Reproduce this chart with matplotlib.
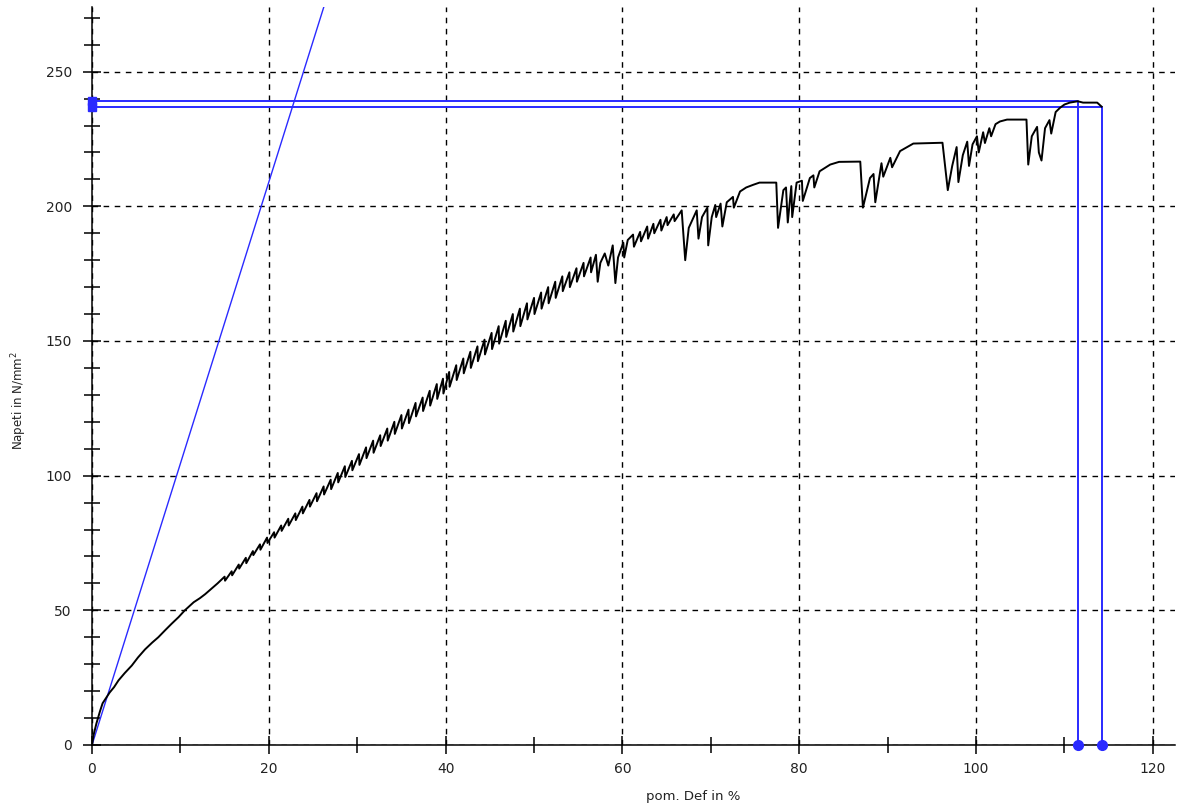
import numpy as np
import matplotlib
matplotlib.use("Agg")
from matplotlib import pyplot as plt
from matplotlib.ticker import MultipleLocator

# measured tensile curve: strain in %, stress in N/mm2
strain = [0, 0.2, 0.5, 0.9, 1.2, 1.5, 2.0, 2.5, 3.0, 3.7, 4.5, 5.2, 6.0, 6.8, 7.5, 8.3,
          9.0, 9.8, 10.5, 11.5, 12.2, 12.8, 13.5, 14.2,
          15.0, 15.05, 15.8, 15.85, 16.6, 16.65, 17.4, 17.45, 18.2, 18.25, 19.0, 19.05,
          19.8, 19.85, 20.6, 20.65, 21.4, 21.45, 22.2, 22.25, 23.0, 23.05, 23.8, 23.85,
          24.6, 24.65, 25.4, 25.45, 26.2, 26.25, 27.0, 27.05, 27.8, 27.85, 28.6, 28.65,
          29.4, 29.45, 30.2, 30.25, 31.0, 31.05, 31.8, 31.85, 32.6, 32.65, 33.4, 33.45,
          34.2, 34.25, 35.0, 35.05, 35.8, 35.85, 36.6, 36.65, 37.4, 37.45, 38.2, 38.25,
          39.0, 39.05, 39.7, 39.75, 40.4, 40.45, 41.2, 41.25, 42.0, 42.05, 42.8, 42.85,
          43.6, 43.65, 44.4, 44.45, 45.2, 45.25, 46.0, 46.05, 46.8, 46.85, 47.6, 47.65,
          48.4, 48.45, 49.2, 49.25, 50.0, 50.05, 50.8, 50.85, 51.6, 51.65, 52.4, 52.45,
          53.2, 53.25, 54.0, 54.05, 54.8, 54.85, 55.6, 55.65, 56.4, 56.45,
          57.0, 57.2, 57.5, 58.0, 58.4, 58.9, 59.2, 59.5, 60.1, 60.2, 60.6, 61.2, 61.3,
          62.0, 62.1, 62.8, 62.9, 63.5, 63.6, 64.3, 64.4, 65.0, 65.1, 65.8, 65.9,
          66.7, 67.1, 67.5, 68.4, 68.6, 69.0, 69.6, 69.7, 70.1, 70.5, 70.6, 71.1, 71.3,
          71.8, 72.5, 72.6, 73.3, 74.0, 74.8, 75.5, 77.4, 77.6, 78.2, 78.5, 78.7, 79.1,
          79.2, 79.7, 80.3, 80.4, 81.2, 81.6, 81.7, 82.3, 83.5, 84.5, 86.9, 87.2, 88.0,
          88.4, 88.6, 89.3, 89.5, 90.3, 90.5, 91.4, 92.2, 92.9, 96.2, 96.8, 97.3, 97.8,
          98.0, 98.5, 99.0, 99.2, 99.6, 100.1, 100.3, 100.8, 101.0, 101.5, 101.7, 102.2,
          102.7, 103.5, 105.7, 105.9, 106.3, 106.9, 107.1, 107.4, 107.8, 108.3, 108.5,
          109.0, 109.5, 110.0, 110.6, 111.5, 112.1, 113.7, 114.2]
stress = [0, 4, 8, 12.5, 15.5, 17, 19.5, 21.5, 24, 26.7, 29.5, 32.5, 35.5, 38, 40, 42.7,
          45, 47.5, 50, 53, 54.5, 56, 58, 60,
          62.5, 61, 64.5, 63, 67, 65.5, 69.5, 67.5, 72, 70.5, 74.5, 72.5,
          77, 75, 79, 77, 81.5, 79.5, 84, 81.5, 86, 83.5, 88.5, 86,
          91, 88.5, 93.5, 90.5, 96, 93, 98.5, 95, 101, 97.5, 103.5, 99.5,
          105.5, 102, 108, 104, 110.5, 106.5, 113, 108.5, 115, 111, 117.5, 113,
          120, 115.5, 122.5, 117.5, 124.5, 119.5, 127, 122, 129, 124, 131.5, 126,
          134, 128.5, 136, 130.5, 138.5, 133, 141, 135.5, 143.5, 138, 146, 140,
          148, 142.5, 150.5, 145, 153, 147, 155.5, 149, 157.5, 151.5, 160, 153.5,
          162, 155.5, 164, 158, 166, 160, 168, 162, 170, 164, 172, 166,
          174, 168.5, 175.5, 170, 177, 172, 179, 174, 181, 175.5,
          182, 172, 179, 182.5, 178, 185.5, 171.5, 181, 186.5, 181, 187.5, 189.5, 185,
          190.5, 187, 192.5, 188, 193.5, 190, 195, 191, 196, 193, 197, 194.5,
          198.5, 180, 192, 198.5, 188, 196, 199.5, 185.5, 196, 200.5, 196, 201, 192.5,
          201.5, 203.5, 199.5, 205.5, 207, 208, 208.8, 208.8, 192, 206, 207, 194, 207.5,
          196, 208.8, 209.5, 202, 210.5, 211.5, 207, 213, 215.5, 216.5, 216.6, 199.5, 210.5,
          212, 201.5, 216, 211, 218, 214.5, 220.5, 222, 223.3, 223.6, 206, 215, 222,
          209, 219, 224, 215, 223, 226, 220, 227.5, 223.5, 229, 226, 230.5,
          231.5, 232.2, 232.2, 215.5, 226, 229.5, 220, 217, 229, 232, 227,
          235, 236.6, 237.8, 238.5, 239, 238.5, 238.5, 237]

# evaluation markers
rm_strain, rm_stress = 111.5, 239.0      # max force
break_strain, break_stress = 114.2, 237.0  # break
elastic_slope = 10.45                    # N/mm2 per %

blue = "#2a2aff"

fig = plt.figure(figsize=(11.78, 8.07), dpi=100)
ax = fig.add_axes([92 / 1178, 62 / 807, 1083 / 1178, 738 / 807])

ax.set_xlim(0, 122.5)
ax.set_ylim(0, 274)

# elastic line
ex = np.array([0, 30])
ax.plot(ex, elastic_slope * ex, color=blue, lw=1.0, zorder=3)

# marker lines for Rm and break
ax.plot([0, rm_strain, rm_strain], [rm_stress, rm_stress, 0], color=blue, lw=1.4, zorder=3)
ax.plot([0, break_strain, break_strain], [break_stress, break_stress, 0], color=blue, lw=1.4, zorder=3)
ax.plot([rm_strain, break_strain], [0, 0], ls="none", marker="o", ms=7, color=blue,
        clip_on=False, zorder=5)
ax.plot([0, 0], [rm_stress, break_stress], ls="none", marker="s", ms=6, color=blue,
        clip_on=False, zorder=5)

ax.plot(strain, stress, color="black", lw=1.4, zorder=4)

# axes look
for s in ["top", "right"]:
    ax.spines[s].set_visible(False)
for s in ["left", "bottom"]:
    ax.spines[s].set_linewidth(1.1)

ax.xaxis.set_major_locator(MultipleLocator(20))
ax.xaxis.set_minor_locator(MultipleLocator(10))
ax.yaxis.set_major_locator(MultipleLocator(50))
ax.yaxis.set_minor_locator(MultipleLocator(10))
ax.tick_params(which="both", direction="inout", width=1.1, colors="black",
               labelcolor="#222222", labelsize=10)
ax.tick_params(which="major", length=13)
ax.tick_params(which="minor", length=11)
ax.tick_params(axis="y", pad=8)
ax.tick_params(axis="x", pad=6)

ax.grid(which="major", color="black", lw=1.0, ls=(0, (4, 4)))

ax.set_xlabel("pom. Def in %", fontsize=9.5, color="#222222")
ax.set_ylabel("Napeti in N/mm$^2$", fontsize=8.5, color="#222222")
ax.xaxis.set_label_coords(0.555, -0.061)
ax.yaxis.set_label_coords(-0.058, 0.467)

fig.savefig("out.png", dpi=100)
